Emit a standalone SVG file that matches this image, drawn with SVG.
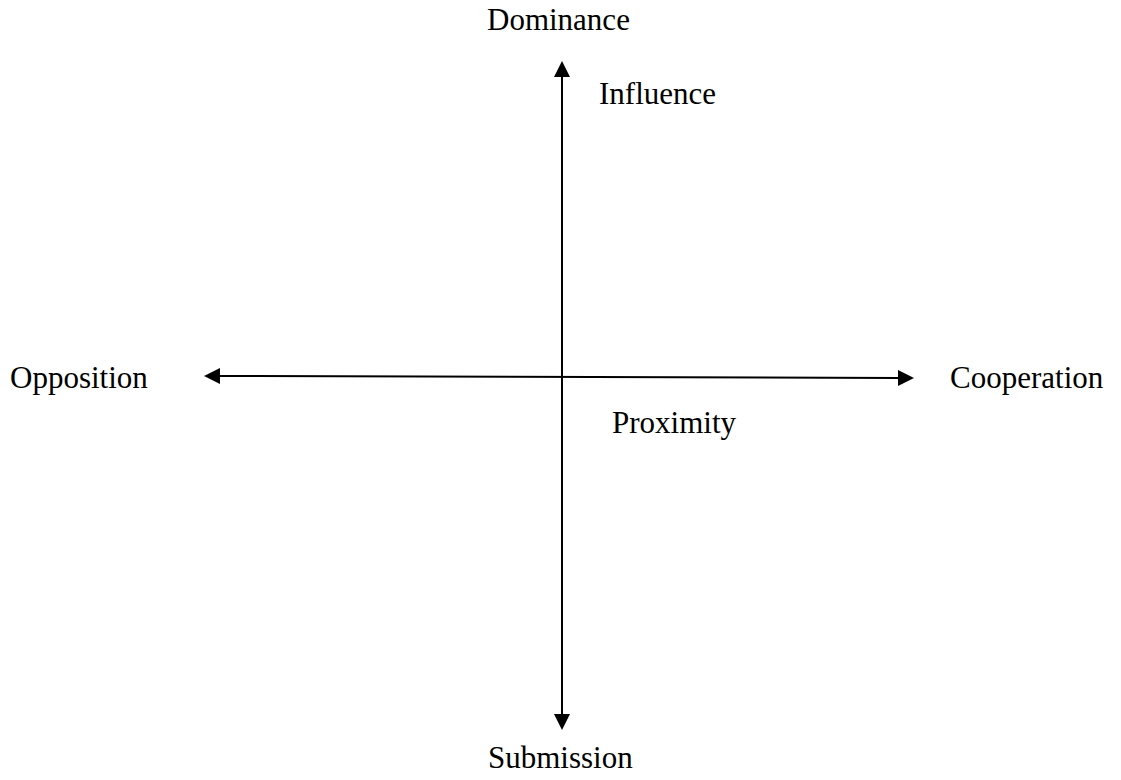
<svg xmlns="http://www.w3.org/2000/svg" width="1121" height="780" viewBox="0 0 1121 780">
<style>
.lbl{font-family:"Liberation Serif","Times New Roman",serif;font-size:31px;fill:#000}
.ax{stroke:#000;stroke-width:2;fill:none}
</style>
<defs>
<marker id="ah" markerUnits="userSpaceOnUse" markerWidth="16" markerHeight="16" viewBox="0 0 16 16" refX="1" refY="8" orient="auto-start-reverse">
<path d="M0,0 L16,8 L0,16 Z" fill="#000"/>
</marker>
</defs>
<rect width="1121" height="780" fill="#fff"/>
<g id="connectors">
<line class="ax" x1="562" y1="76" x2="562" y2="715" marker-start="url(#ah)" marker-end="url(#ah)"/>
<line class="ax" x1="219" y1="376" x2="899" y2="378" marker-start="url(#ah)" marker-end="url(#ah)"/>
</g>
<g id="dominance"><text class="lbl" x="487" y="30">Dominance</text></g>
<g id="influence"><text class="lbl" x="599" y="104">Influence</text></g>
<g id="opposition"><text class="lbl" x="10" y="388">Opposition</text></g>
<g id="cooperation"><text class="lbl" x="950" y="388">Cooperation</text></g>
<g id="proximity"><text class="lbl" x="612" y="433">Proximity</text></g>
<g id="submission"><text class="lbl" x="488" y="768">Submission</text></g>
</svg>
